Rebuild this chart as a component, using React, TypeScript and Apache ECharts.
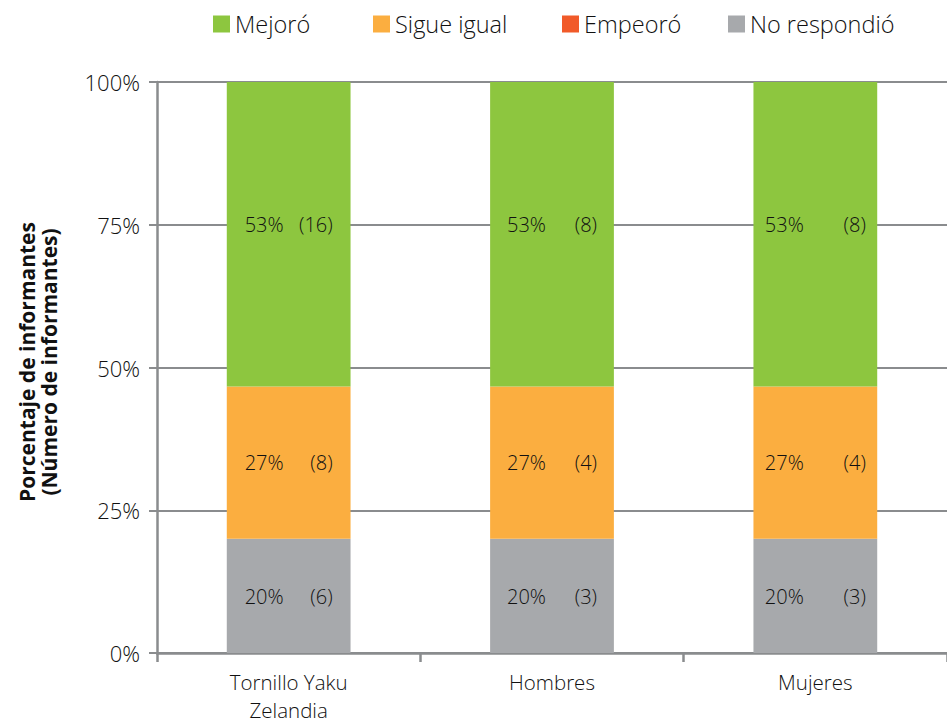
import React, { useEffect, useRef } from "react";
import * as echarts from "echarts";

const categories = ["Tornillo Yaku\nZelandia", "Hombres", "Mujeres"];
const seriesNames = ["Mejoró", "Sigue igual", "Empeoró", "No respondió"];
const mejoro = [16, 8, 8];
const sigueIgual = [8, 4, 4];
const empeoro = [0, 0, 0];
const noRespondio = [6, 3, 3];
const mejoroPct = [53, 53, 53];
const sigueIgualPct = [27, 27, 27];
const empeoroPct = [0, 0, 0];
const noRespondioPct = [20, 20, 20];
const yTicks = [0, 25, 50, 75, 100];

const COLORS: Record<string, string> = {
  "Mejoró": "#8DC63F",
  "Sigue igual": "#FBAE40",
  "Empeoró": "#F15A29",
  "No respondió": "#A7A9AC",
};
const FONT = "Open Sans";
const FW = 300;
const TEXT = "#111111";
const LINE = "#8a8c8e";
const labelWidths = [88, 90, 101];

export default function App() {
  const ref = useRef<HTMLDivElement>(null);
  useEffect(() => {
    if (!ref.current) return;
    const chart = echarts.init(ref.current, null, { renderer: "svg" });
    const totals = categories.map(
      (_, i) => mejoro[i] + sigueIgual[i] + empeoro[i] + noRespondio[i]
    );
    const mk = (name: string, counts: number[], pcts: number[], dy: number) => ({
      name,
      type: "bar",
      stack: "total",
      barWidth: "47%",
      itemStyle: { color: COLORS[name] },
      data: counts.map((c, i) => (c / totals[i]) * 100),
      label: {
        show: counts.some((c) => c > 0),
        position: "inside",
        offset: [0, dy],
        formatter: (p: any) =>
          `{a${p.dataIndex}|${pcts[p.dataIndex]}%}{b${p.dataIndex}|(${counts[p.dataIndex]})}`,
        rich: Object.fromEntries(
          labelWidths.flatMap((w, i) => [
            [`a${i}`, { width: w / 2, align: "left", fontSize: 20, fontFamily: FONT, fontWeight: FW, color: TEXT }],
            [`b${i}`, { width: w / 2, align: "right", fontSize: 20, fontFamily: FONT, fontWeight: FW, color: TEXT }],
          ])
        ),
      },
    });
    const legendLefts = [213, 373, 562, 728];
    chart.setOption({
      animation: false,
      textStyle: { fontFamily: FONT },
      legend: seriesNames.map((n, i) => ({
        data: [n],
        left: legendLefts[i],
        top: 12,
        padding: 0,
        itemWidth: 17,
        itemHeight: 17,
        icon: "rect",
        selectedMode: false,
        textStyle: { fontSize: 23.5, fontFamily: FONT, fontWeight: FW, color: TEXT },
      })),
      grid: { left: 157, top: 82, width: 792, height: 571, containLabel: false },
      xAxis: {
        type: "category",
        data: categories,
        axisLine: { lineStyle: { color: LINE, width: 2.5 } },
        axisTick: { show: true, length: 9, lineStyle: { color: LINE, width: 2.5 } },
        axisLabel: { fontSize: 20.5, lineHeight: 28, margin: 15, color: TEXT, fontFamily: FONT, fontWeight: FW },
      },
      yAxis: {
        type: "value",
        min: yTicks[0],
        max: yTicks[yTicks.length - 1],
        interval: 25,
        axisLine: { show: true, lineStyle: { color: LINE, width: 2.5 } },
        axisTick: { show: true, length: 8, lineStyle: { color: LINE, width: 2 } },
        splitLine: { lineStyle: { color: LINE, width: 2 } },
        axisLabel: {
          formatter: "{value}%",
          fontSize: 22,
          margin: 17,
          color: TEXT,
          fontFamily: FONT,
          fontWeight: FW,
        },
      },
      graphic: [
        {
          type: "text",
          x: 38,
          y: 362,
          rotation: Math.PI / 2,
          style: {
            text: "Porcentaje de informantes\n(Número de informantes)",
            fontSize: 21,
            lineHeight: 22,
            fontWeight: "bold",
            fontFamily: "Open Sans",
            fill: "#111",
            align: "center",
            verticalAlign: "middle",
          },
        },
      ],
      series: [
        mk("No respondió", noRespondio, noRespondioPct, 1),
        mk("Sigue igual", sigueIgual, sigueIgualPct, 0),
        mk("Empeoró", empeoro, empeoroPct, 0),
        mk("Mejoró", mejoro, mejoroPct, -10),
      ],
    });
    return () => chart.dispose();
  }, []);
  return (
    <div
      ref={ref}
      style={{ position: "absolute", left: 0, top: 0, width: 947, height: 724 }}
    />
  );
}
